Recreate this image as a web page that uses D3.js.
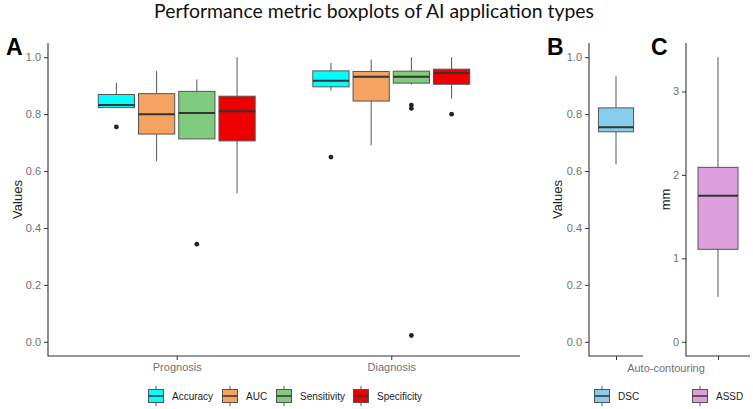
<!DOCTYPE html>
<html><head><meta charset="utf-8">
<script src="https://cdn.jsdelivr.net/npm/d3@7"></script>
<style>body{margin:0;background:#fff}svg{display:block}</style>
</head><body>
<svg id="c" width="753" height="409"></svg>
<script>
// ---------- data ----------
const groups = ["Prognosis", "Diagnosis"];
const metrics = ["Accuracy", "AUC", "Sensitivity", "Specificity"];
const metricColors = ["#00FFFF", "#F4A460", "#7FCC7F", "#EE0000"];
// per group, per metric
const whiskerLow  = [[0.823, 0.635, 0.713, 0.522], [0.883, 0.691, 0.904, 0.855]];
const q1          = [[0.823, 0.730, 0.713, 0.706], [0.896, 0.846, 0.909, 0.905]];
const median      = [[0.832, 0.800, 0.804, 0.810], [0.917, 0.931, 0.931, 0.945]];
const q3          = [[0.869, 0.872, 0.880, 0.863], [0.952, 0.950, 0.951, 0.958]];
const whiskerHigh = [[0.910, 0.952, 0.922, 1.000], [0.980, 0.992, 1.000, 1.000]];
const outliers    = [[[0.755], [], [0.343], []], [[0.649], [], [0.832, 0.820, 0.022], [0.800]]];
const yTicksA = [0.0, 0.2, 0.4, 0.6, 0.8, 1.0];

const autoGroup = "Auto-contouring";
const dscStats  = [0.623, 0.738, 0.754, 0.822, 0.933]; // lw, q1, med, q3, uw
const assdStats = [0.538, 1.108, 1.750, 2.090, 3.410];
const yTicksC = [0, 1, 2, 3];
const dscColor = "#87CEEB", assdColor = "#DDA0DD";

// ---------- drawing ----------
const svg = d3.select("#c");
const FONT = "'Liberation Sans', Arial, sans-serif";
const tickCol = "#707078", axisCol = "#333", boxLine = "#555";

svg.append("text").attr("x", 374).attr("y", 18).attr("text-anchor", "middle")
  .attr("font-family", "Lato, Carlito, sans-serif").attr("font-size", 19.4).attr("fill", "#111")
  .text("Performance metric boxplots of AI application types");

function panelLabel(t, x, y) {
  svg.append("text").attr("x", x).attr("y", y).attr("font-family", FONT)
    .attr("font-weight", "bold").attr("font-size", 23).attr("fill", "#000").text(t);
}
panelLabel("A", 6, 55); panelLabel("B", 547, 55); panelLabel("C", 651, 55);

const plotTop = 43, plotBottom = 356;

function yAxis(g, y, ticks, fmt) {
  const ax = d3.axisLeft(y).tickValues(ticks).tickFormat(fmt).tickSize(4).tickPadding(3);
  g.call(ax);
  g.select(".domain").remove();
  g.selectAll(".tick line").attr("stroke", axisCol);
  g.selectAll(".tick text").attr("fill", tickCol).attr("font-size", 11).attr("font-family", FONT);
}
function xAxis(g, x, ticks, labels) {
  const ax = d3.axisBottom(x).tickValues(ticks).tickFormat((d, i) => labels[i]).tickSize(4).tickPadding(3);
  g.call(ax);
  g.select(".domain").remove();
  g.selectAll(".tick line").attr("stroke", axisCol);
  g.selectAll(".tick text").attr("fill", tickCol).attr("font-size", 11).attr("font-family", FONT);
}
function frame(x0, x1) {
  svg.append("line").attr("x1", x0).attr("x2", x0).attr("y1", plotTop).attr("y2", plotBottom + 0.5).attr("stroke", axisCol).attr("stroke-width", 1.1);
  svg.append("line").attr("x1", x0).attr("x2", x1).attr("y1", plotBottom).attr("y2", plotBottom).attr("stroke", axisCol).attr("stroke-width", 1.1);
}
function drawBox(g, y, cx, w, st, fill, outs) {
  const [lw, a, m, b, uw] = st;
  g.append("line").attr("x1", cx).attr("x2", cx).attr("y1", y(uw)).attr("y2", y(b)).attr("stroke", boxLine);
  g.append("line").attr("x1", cx).attr("x2", cx).attr("y1", y(a)).attr("y2", y(lw)).attr("stroke", boxLine);
  g.append("rect").attr("x", cx - w / 2).attr("y", y(b)).attr("width", w).attr("height", Math.max(0.5, y(a) - y(b)))
    .attr("fill", fill).attr("stroke", boxLine).attr("stroke-width", 1);
  g.append("line").attr("x1", cx - w / 2).attr("x2", cx + w / 2).attr("y1", y(m)).attr("y2", y(m)).attr("stroke", "#333").attr("stroke-width", 2);
  (outs || []).forEach(o => g.append("circle").attr("cx", cx).attr("cy", y(o)).attr("r", 2.4).attr("fill", "#222"));
}

// Panel A
const xA = d3.scaleLinear().domain([0.4, 2.6]).range([48, 520]);
const yA = d3.scaleLinear().domain([-0.05, 1.05]).range([plotBottom, plotTop]);
const gA = svg.append("g");
const slot = 0.75 / metrics.length;
groups.forEach((grp, gi) => {
  metrics.forEach((m, mi) => {
    const c = (gi + 1) - 0.375 + slot * (mi + 0.5);
    const w = xA(slot * 0.9) - xA(0);
    drawBox(gA, yA, xA(c), w, [whiskerLow[gi][mi], q1[gi][mi], median[gi][mi], q3[gi][mi], whiskerHigh[gi][mi]], metricColors[mi], outliers[gi][mi]);
  });
});
frame(48, 520);
yAxis(svg.append("g").attr("transform", "translate(48,0)"), yA, yTicksA, d3.format(".1f"));
xAxis(svg.append("g").attr("transform", `translate(0,${plotBottom})`), xA, [1, 2], groups);
svg.append("text").attr("transform", `translate(22,${(plotTop + plotBottom) / 2}) rotate(-90)`).attr("text-anchor", "middle")
  .attr("font-family", FONT).attr("font-size", 13).attr("fill", "#222").text("Values");

// Panel B
const xB = d3.scaleLinear().domain([0.4, 1.6]).range([589, 643]);
const gB = svg.append("g");
drawBox(gB, yA, xB(1), xB(0.78) - xB(0), dscStats, dscColor, []);
frame(589, 643);
yAxis(svg.append("g").attr("transform", "translate(589,0)"), yA, yTicksA, d3.format(".1f"));
xAxis(svg.append("g").attr("transform", `translate(0,${plotBottom})`), xB, [1], [""]);
svg.append("text").attr("transform", `translate(562,${(plotTop + plotBottom) / 2}) rotate(-90)`).attr("text-anchor", "middle")
  .attr("font-family", FONT).attr("font-size", 13).attr("fill", "#222").text("Values");

// Panel C
const xC = d3.scaleLinear().domain([0.4, 1.6]).range([686, 750]);
const yC = d3.scaleLinear().domain([-0.1705, 3.5805]).range([plotBottom, plotTop]);
const gC = svg.append("g");
drawBox(gC, yC, xC(1), xC(0.75) - xC(0), assdStats, assdColor, []);
frame(686, 750);
yAxis(svg.append("g").attr("transform", "translate(686,0)"), yC, yTicksC, d3.format("d"));
xAxis(svg.append("g").attr("transform", `translate(0,${plotBottom})`), xC, [1], [""]);
svg.append("text").attr("transform", `translate(670,${(plotTop + plotBottom) / 2}) rotate(-90)`).attr("text-anchor", "middle")
  .attr("font-family", FONT).attr("font-size", 13).attr("fill", "#222").text("mm");

svg.append("text").attr("x", 666).attr("y", 372).attr("text-anchor", "middle")
  .attr("font-family", FONT).attr("font-size", 11).attr("fill", tickCol).text(autoGroup);

// Legends
function legendKey(x, fill, label) {
  const g = svg.append("g").attr("transform", `translate(${x},396)`);
  g.append("line").attr("x1", 8).attr("x2", 8).attr("y1", -10).attr("y2", 10).attr("stroke", boxLine);
  g.append("rect").attr("x", 0.5).attr("y", -6.5).attr("width", 15).attr("height", 13).attr("fill", fill).attr("stroke", boxLine);
  g.append("line").attr("x1", 0.5).attr("x2", 15.5).attr("y1", 0).attr("y2", 0).attr("stroke", "#333").attr("stroke-width", 1.5);
  g.append("text").attr("x", 24).attr("y", 4).attr("font-family", FONT).attr("font-size", 10).attr("fill", "#222").text(label);
}
const legX = [148, 222, 276, 353];
metrics.forEach((m, i) => legendKey(legX[i], metricColors[i], m));
legendKey(594, dscColor, "DSC");
legendKey(692, assdColor, "ASSD");
</script>
</body></html>
